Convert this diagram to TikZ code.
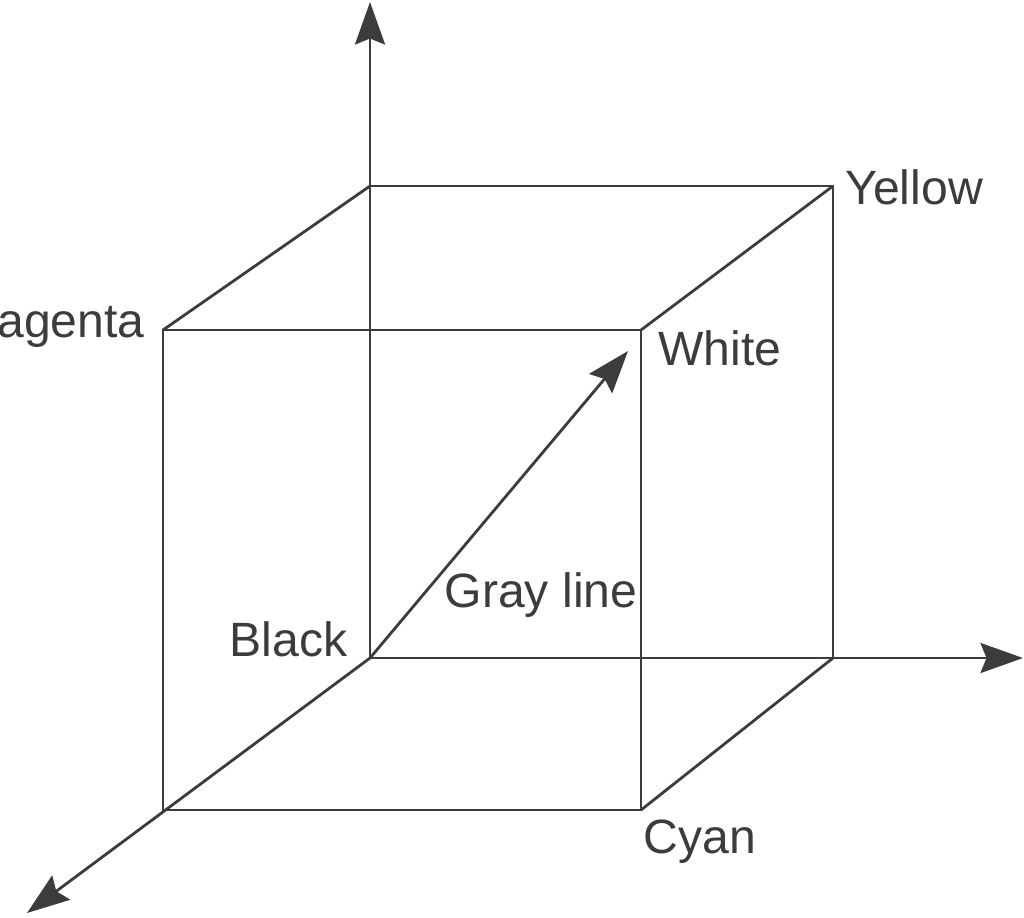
\documentclass[tikz,border=0pt]{standalone}
\usepackage{fontspec}
\setmainfont{Liberation Sans}
\usetikzlibrary{arrows.meta}

\begin{document}
\begin{tikzpicture}[x=0.02cm, y=-0.02cm, line width=1.6pt, draw={rgb,255:red,58;green,60;blue,62},
    >={Stealth[length=0.85cm, width=0.6cm, inset=0.12cm]},
    lbl/.style={font=\fontsize{27.4}{31}\selectfont, text={rgb,255:red,58;green,60;blue,62}, inner sep=0pt}]
    \useasboundingbox (0,0) rectangle (1024,917);
    % Corners of the cube
    \coordinate (black) at (370,658);
    \coordinate (blue) at (370,186);
    \coordinate (yellow) at (833,186);
    \coordinate (green) at (833,658);
    \coordinate (magenta) at (163,330);
    \coordinate (white) at (641,330);
    \coordinate (cyan) at (641,810);
    \coordinate (red) at (163,810);
    % Axis ends
    \coordinate (zend) at (370,2);
    \coordinate (xend) at (1023,658);
    \coordinate (yend) at (27,913);
    \coordinate (gend) at (628,351);

    % Axes
    \draw[->] (black) -- (zend);
    \draw[->] (black) -- (xend);
    \draw[->] (black) -- (yend);

    % Cube
    \draw (magenta) -- (white) -- (cyan) -- (red) -- cycle;
    \draw (blue) -- (yellow) -- (green);
    \draw (magenta) -- (blue);
    \draw (white) -- (yellow);
    \draw (cyan) -- (green);

    % Gray line
    \draw[->] (black) -- (gend);

    % Labels
    \node[lbl, anchor=east] (lmag) at (146,326) {Magenta};
    \node[lbl, anchor=west] (lyel) at (844,187) {Yellow};
    \node[lbl, anchor=west] (lwhi) at (657,348) {White};
    \node[lbl, anchor=west] (lcya) at (642,842) {Cyan};
    \node[lbl, anchor=east] (lbla) at (349,639) {Black};
    \node[lbl] (lgra) at (541,595) {Gray line};
\end{tikzpicture}
\end{document}
